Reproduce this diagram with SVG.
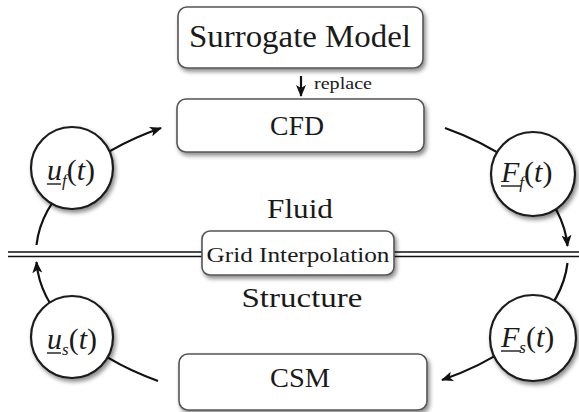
<svg xmlns="http://www.w3.org/2000/svg" width="579" height="412" viewBox="0 0 579 412">
<defs>
<filter id="sh" x="-20%" y="-20%" width="150%" height="160%">
<feDropShadow dx="2" dy="3" stdDeviation="2" flood-color="#000" flood-opacity="0.45"/>
</filter>
<marker id="ah" viewBox="0 0 12 10" refX="11" refY="5" markerWidth="12" markerHeight="10" markerUnits="userSpaceOnUse" orient="auto">
<path d="M0,0 L12,5 L0,10 L3,5 Z" fill="#111"/>
</marker>
<style>
.box{fill:#fff;stroke:#555;stroke-width:1.6;filter:url(#sh)}
.circ{fill:#fff;stroke:#1a1a1a;stroke-width:2.2;filter:url(#sh)}
.lbl{font-family:'Liberation Serif',serif;fill:#1a1a1a;text-anchor:middle}
.math{font-family:'Liberation Serif',serif;fill:#1a1a1a;font-style:italic}
.con{fill:none;stroke:#111;stroke-width:2.2}
</style>
</defs>
<g id="connectors">
<path class="con" d="M36.5 245 A266 149 0 0 1 161 128" marker-end="url(#ah)"/>
<path class="con" d="M445 128 A266 149 0 0 1 567.5 246" marker-end="url(#ah)"/>
<path class="con" d="M567.5 263 A266 149 0 0 1 442 380" marker-end="url(#ah)"/>
<path class="con" d="M158 381 A266 149 0 0 1 36.5 262" marker-end="url(#ah)"/>
<line class="con" x1="301" y1="76" x2="301" y2="96" stroke-width="1.8" marker-end="url(#ah)"/>
<text x="314" y="89" font-family="'Liberation Serif',serif" font-size="17" fill="#1a1a1a" textLength="58" lengthAdjust="spacingAndGlyphs">replace</text>
</g>
<g id="interface">
<line x1="8" y1="252" x2="579" y2="252" stroke="#111" stroke-width="1.6"/>
<line x1="8" y1="256.5" x2="579" y2="256.5" stroke="#111" stroke-width="1.6"/>
<text class="lbl" x="300" y="218" font-size="28" textLength="66" lengthAdjust="spacingAndGlyphs">Fluid</text>
<text class="lbl" x="302" y="307" font-size="28" textLength="121" lengthAdjust="spacingAndGlyphs">Structure</text>
</g>
<g id="surrogate">
<rect class="box" x="178" y="7" width="245" height="61" rx="9"/>
<text class="lbl" x="300" y="47" font-size="31" textLength="222" lengthAdjust="spacingAndGlyphs">Surrogate Model</text>
</g>
<g id="cfd">
<rect class="box" x="177" y="99" width="247" height="53" rx="9"/>
<text class="lbl" x="297" y="135" font-size="27" textLength="54" lengthAdjust="spacingAndGlyphs">CFD</text>
</g>
<g id="grid">
<rect class="box" x="202" y="231" width="192" height="44" rx="8"/>
<text class="lbl" x="298" y="262" font-size="22" textLength="183" lengthAdjust="spacingAndGlyphs">Grid Interpolation</text>
</g>
<g id="csm">
<rect class="box" x="179" y="354" width="248" height="56" rx="9"/>
<text class="lbl" x="300" y="387" font-size="27" textLength="60" lengthAdjust="spacingAndGlyphs">CSM</text>
</g>
<g id="uf">
<circle class="circ" cx="72" cy="168" r="41"/>
<text class="math" x="47" y="180" font-size="30">u<tspan font-size="17" dy="6">f</tspan><tspan dy="-6" font-style="normal">(</tspan>t<tspan font-style="normal">)</tspan></text>
<line x1="47" y1="184" x2="61" y2="184" stroke="#1a1a1a" stroke-width="1.4"/>
</g>
<g id="ff">
<circle class="circ" cx="533" cy="174" r="42"/>
<text class="math" x="501" y="182" font-size="30">F<tspan font-size="17" dy="6">f</tspan><tspan dy="-6" font-style="normal">(</tspan>t<tspan font-style="normal">)</tspan></text>
<line x1="501" y1="186" x2="521" y2="186" stroke="#1a1a1a" stroke-width="1.4"/>
</g>
<g id="us">
<circle class="circ" cx="72" cy="337" r="41"/>
<text class="math" x="47" y="349" font-size="30">u<tspan font-size="17" dy="6">s</tspan><tspan dy="-6" font-style="normal">(</tspan>t<tspan font-style="normal">)</tspan></text>
<line x1="47" y1="353" x2="61" y2="353" stroke="#1a1a1a" stroke-width="1.4"/>
</g>
<g id="fs">
<circle class="circ" cx="533" cy="338" r="43"/>
<text class="math" x="501" y="347" font-size="30">F<tspan font-size="17" dy="6">s</tspan><tspan dy="-6" font-style="normal">(</tspan>t<tspan font-style="normal">)</tspan></text>
<line x1="501" y1="351" x2="521" y2="351" stroke="#1a1a1a" stroke-width="1.4"/>
</g>
</svg>
